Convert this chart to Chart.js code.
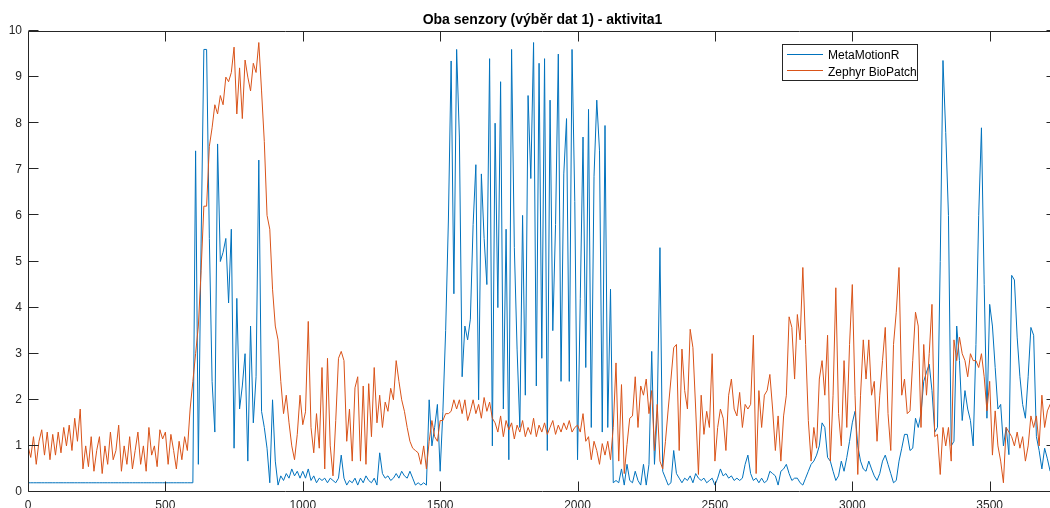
<!DOCTYPE html>
<html>
<head>
<meta charset="utf-8">
<script src="https://cdn.jsdelivr.net/npm/chart.js@4.4.1/dist/chart.umd.min.js"></script>
<style>
  html, body { margin: 0; padding: 0; background: #fff; overflow: hidden; }
  #wrap { position: absolute; left: 0; top: 0; width: 1060px; height: 508px; }
</style>
</head>
<body>
<div id="wrap"><canvas id="plot" width="1060" height="508"></canvas></div>
<script>
// one value every STEP samples
const STEP = 10;
const X_MAX = 3745;
const xTicks = [0, 500, 1000, 1500, 2000, 2500, 3000, 3500];
const yTicks = [0, 1, 2, 3, 4, 5, 6, 7, 8, 9, 10];
const seriesNames = ['MetaMotionR', 'Zephyr BioPatch'];
const chartTitle = 'Oba senzory (výběr dat 1) - aktivita1';

const metaMotion = [
  0.2, 0.2, 0.2, 0.2, 0.2, 0.2, 0.2, 0.2, 0.2, 0.2,
  0.2, 0.2, 0.2, 0.2, 0.2, 0.2, 0.2, 0.2, 0.2, 0.2,
  0.2, 0.2, 0.2, 0.2, 0.2, 0.2, 0.2, 0.2, 0.2, 0.2,
  0.2, 0.2, 0.2, 0.2, 0.2, 0.2, 0.2, 0.2, 0.2, 0.2,
  0.2, 0.2, 0.2, 0.2, 0.2, 0.2, 0.2, 0.2, 0.2, 0.2,
  0.2, 0.2, 0.2, 0.2, 0.2, 0.2, 0.2, 0.2, 0.2, 0.2,
  0.2, 7.4, 0.6, 5.4, 9.6, 9.6, 5.5, 2.4, 1.3, 7.55,
  5.0, 5.2, 5.5, 4.1, 5.7, 0.95, 4.2, 1.8, 2.3, 3.0,
  0.67, 3.6, 1.5, 2.5, 7.2, 1.75, 1.4, 0.95, 0.2, 2.0,
  0.67, 0.15, 0.35, 0.25, 0.4, 0.3, 0.5, 0.35, 0.45, 0.3,
  0.45, 0.3, 0.5, 0.25, 0.35, 0.2, 0.3, 0.25, 0.3, 0.2,
  0.3, 0.25, 0.2, 0.3, 0.8, 0.3, 0.15, 0.25, 0.2, 0.3,
  0.15, 0.3, 0.2, 0.35, 0.25, 0.2, 0.3, 0.15, 0.85, 0.4,
  0.3, 0.35, 0.25, 0.3, 0.4, 0.3, 0.45, 0.35, 0.3, 0.45,
  0.3, 0.15, 0.2, 0.15, 0.2, 0.15, 2.0, 1.0, 1.4, 1.9,
  0.45, 1.75, 3.5, 5.9, 9.35, 4.3, 9.6, 7.7, 2.5, 3.6,
  3.3, 3.75, 5.8, 7.1, 2.0, 6.9, 5.5, 4.5, 9.4, 1.0,
  8.0, 4.0, 8.9, 1.8, 5.7, 0.7, 9.6, 5.3, 3.1, 1.4,
  6.0, 2.1, 8.6, 6.8, 9.75, 2.3, 9.3, 2.9, 9.4, 0.9,
  8.5, 3.5, 5.8, 9.5, 2.4, 6.9, 8.1, 2.4, 9.6, 6.3,
  0.7, 4.2, 7.7, 2.7, 8.3, 1.4, 6.85, 8.5, 7.4, 1.3,
  7.95, 1.4, 4.4, 0.2, 0.25, 0.2, 0.5, 0.15, 0.6, 0.25,
  0.2, 0.45, 0.25, 0.15, 0.6, 0.15, 0.6, 3.05, 0.6, 1.7,
  5.3, 0.45, 0.3, 0.15, 0.2, 0.9, 0.4, 0.3, 0.2, 0.3,
  0.25, 0.35, 0.2, 0.4, 0.3, 0.25, 0.3, 0.2, 0.25, 0.3,
  0.15, 0.3, 0.5, 0.35, 0.4, 0.3, 0.35, 0.25, 0.3, 0.25,
  0.3, 0.6, 0.8, 0.4, 0.25, 0.3, 0.2, 0.3, 0.2, 0.25,
  0.45, 0.4, 0.35, 0.15, 0.45, 0.5, 0.6, 0.4, 0.25, 0.3,
  0.3, 0.2, 0.15, 0.3, 0.45, 0.6, 0.67, 0.8, 1.0, 1.5,
  1.4, 0.75, 0.67, 0.45, 0.25, 0.35, 0.67, 0.45, 0.75, 1.1,
  1.5, 1.75, 1.0, 0.67, 0.5, 0.45, 0.67, 0.5, 0.35, 0.25,
  0.4, 0.67, 0.8, 0.6, 0.4, 0.2, 0.25, 0.67, 0.95, 1.25,
  1.25, 0.9, 0.95, 1.6, 1.4, 1.7, 2.4, 2.6, 2.77, 2.2,
  1.3, 1.4, 5.0, 9.36, 7.8, 6.0, 1.0, 1.1, 3.6, 2.85,
  1.55, 2.2, 1.8, 1.55, 1.0, 3.2, 6.0, 7.9, 4.5, 1.6,
  4.07, 3.6, 2.7, 1.8, 1.9, 1.0, 1.4, 0.81, 4.7, 4.6,
  3.36, 2.5, 1.9, 1.6, 2.5, 3.57, 3.4, 1.2, 0.9, 0.5,
  0.95, 0.72, 0.45, 0.4, 0.4
];

const zephyr = [
  1.0, 0.75, 1.2, 0.6, 1.1, 1.35, 0.8, 1.3, 0.7, 1.25,
  0.8, 1.3, 0.85, 1.4, 1.0, 1.45, 0.9, 1.6, 1.1, 1.8,
  0.5, 1.0, 0.55, 1.2, 0.45, 0.9, 1.2, 0.4, 1.0, 0.6,
  1.3, 0.7, 0.9, 1.45, 0.45, 1.0, 0.6, 1.2, 0.5, 0.9,
  1.3, 0.6, 1.0, 0.45, 1.4, 0.8, 1.0, 0.55, 1.35, 1.15,
  1.3, 0.6, 1.25, 0.9, 0.5, 1.1, 0.7, 1.2, 0.9, 1.8,
  2.4, 3.0, 3.6, 4.8, 6.2, 6.2, 7.5, 7.9, 8.4, 8.2,
  8.6, 8.4, 9.0, 8.9, 9.1, 9.65, 8.2, 9.2, 8.1, 9.37,
  9.0, 8.7, 9.3, 9.1, 9.75, 8.7, 7.6, 6.0, 5.7, 4.4,
  3.6, 3.3, 2.4, 1.7, 2.1, 1.5, 1.0, 0.7, 1.25, 2.1,
  1.46, 1.74, 3.7, 1.4, 0.85, 1.7, 0.95, 2.7, 0.5, 2.9,
  1.0, 0.35, 1.55, 2.9, 3.05, 2.85, 1.1, 1.8, 0.67, 2.26,
  2.5, 0.67, 2.3, 0.6, 2.35, 1.2, 2.7, 1.5, 2.1, 1.4,
  1.95, 1.75, 2.25, 2.0, 2.85, 2.4, 2.0, 1.75, 1.4, 1.1,
  0.95, 0.9, 0.85, 0.6, 1.0, 0.5, 1.1, 1.55, 1.2, 1.1,
  1.55, 1.55, 1.7, 1.7, 1.75, 2.0, 1.8, 2.0, 1.7, 2.0,
  1.55, 1.75, 2.0, 1.7, 1.9, 1.6, 2.05, 1.75, 1.95, 1.6,
  1.5, 1.3, 1.65, 1.2, 1.55, 1.35, 1.5, 1.15, 1.45, 1.3,
  1.55, 1.2, 1.4, 1.25, 1.6, 1.2, 1.45, 1.3, 1.5, 1.25,
  1.4, 1.55, 1.25, 1.45, 1.3, 1.5, 1.35, 1.55, 1.3, 1.4,
  1.45, 1.3, 1.7, 1.1, 1.2, 0.7, 1.1, 0.9, 0.6, 1.05,
  0.8, 1.1, 0.7, 1.4, 2.8, 0.67, 2.33, 0.4, 1.03, 1.6,
  1.65, 2.5, 1.4, 2.3, 2.1, 2.45, 1.7, 2.2, 0.9, 1.9,
  0.67, 0.5, 1.1, 1.8, 2.45, 3.13, 3.2, 0.9, 3.1, 2.2,
  1.8, 3.53, 3.13, 1.8, 0.38, 2.1, 1.25, 1.75, 1.4, 3.0,
  0.67, 1.4, 1.8, 1.6, 0.9, 2.1, 2.45, 1.8, 1.65, 2.16,
  1.4, 1.9, 1.8, 1.9, 3.4, 0.4, 2.2, 1.4, 2.1, 2.2,
  2.55, 1.8, 0.9, 1.65, 0.67, 1.65, 2.1, 3.8, 3.57, 2.45,
  3.85, 3.3, 4.87, 3.2, 1.55, 0.67, 1.4, 0.95, 2.45, 2.85,
  2.1, 3.4, 0.67, 2.1, 4.43, 1.7, 1.0, 2.85, 1.4, 3.2,
  4.5, 2.1, 0.38, 2.1, 3.3, 2.45, 3.3, 2.1, 2.4, 1.1,
  2.1, 2.85, 3.57, 1.7, 0.9, 3.2, 3.9, 4.87, 2.1, 2.45,
  1.7, 1.76, 2.85, 3.9, 3.6, 1.4, 3.2, 2.1, 3.0, 4.07,
  1.2, 1.25, 0.38, 1.4, 1.0, 1.4, 0.67, 3.3, 2.85, 3.36,
  3.0, 2.85, 2.5, 3.0, 2.85, 2.85, 2.7, 3.0, 2.5, 1.76,
  2.4, 0.8, 1.76, 1.0, 0.67, 0.2, 1.4, 1.3, 1.2, 1.0,
  1.3, 0.95, 1.2, 0.67, 1.0, 1.65, 1.4, 1.65, 1.0, 2.1,
  1.4, 1.76, 1.9, 1.5, 1.7
];

const BLUE = '#0072BD';
const ORANGE = '#D95319';
const AXIS = '#262626';
const FONT = "'Liberation Sans', Arial, Helvetica, sans-serif";

const toPoints = arr => arr.map((v, i) => ({ x: i * STEP, y: v }));

// title, box, inward ticks and legend the way matlab draws them
const matlabLook = {
  id: 'matlabLook',
  afterDatasetsDraw(chart) {
    const { ctx, chartArea: a, scales: { x, y } } = chart;
    const L = a.left + 0.5, R = a.right - 0.5, T = a.top + 0.5, B = a.bottom - 0.5;
    ctx.save();
    ctx.strokeStyle = AXIS;
    ctx.lineWidth = 1;
    ctx.beginPath();
    ctx.moveTo(L, T); ctx.lineTo(R, T); ctx.lineTo(R, B); ctx.lineTo(L, B); ctx.closePath();
    const tl = 10;
    xTicks.forEach(v => {
      const px = Math.round(x.getPixelForValue(v)) + 0.5;
      ctx.moveTo(px, B); ctx.lineTo(px, B - tl);
      ctx.moveTo(px, T); ctx.lineTo(px, T + tl);
    });
    yTicks.forEach(v => {
      const py = Math.round(y.getPixelForValue(v)) - 0.5;
      ctx.moveTo(L, py); ctx.lineTo(L + tl, py);
      ctx.moveTo(R, py); ctx.lineTo(R - tl, py);
    });
    ctx.stroke();

    // title
    ctx.fillStyle = '#000';
    ctx.font = 'bold 14px ' + FONT;
    ctx.textAlign = 'center';
    ctx.textBaseline = 'alphabetic';
    ctx.fillText(chartTitle, (a.left + a.right) / 2, 24);

    // legend
    const bx = 782.5, by = 44.5, bw = 135, bh = 36;
    ctx.fillStyle = '#fff';
    ctx.fillRect(bx, by, bw, bh);
    ctx.strokeStyle = AXIS;
    ctx.strokeRect(bx, by, bw, bh);
    const rows = [[BLUE, 54.5, 59], [ORANGE, 70.5, 76]];
    ctx.font = '12px ' + FONT;
    ctx.textAlign = 'left';
    rows.forEach(([col, ly, ty], i) => {
      ctx.strokeStyle = col;
      ctx.beginPath();
      ctx.moveTo(787, ly); ctx.lineTo(823, ly);
      ctx.stroke();
      ctx.fillStyle = '#000';
      ctx.fillText(seriesNames[i], 828, ty);
    });
    ctx.restore();
  }
};

new Chart(document.getElementById('plot'), {
  type: 'line',
  data: {
    datasets: [
      { label: seriesNames[0], data: toPoints(metaMotion), borderColor: BLUE, order: 2 },
      { label: seriesNames[1], data: toPoints(zephyr), borderColor: ORANGE, order: 1 }
    ]
  },
  options: {
    responsive: false,
    animation: false,
    devicePixelRatio: 1,
    layout: { padding: { top: 31, right: 3, left: 0, bottom: 0 } },
    elements: {
      line: { borderWidth: 1, tension: 0 },
      point: { radius: 0 }
    },
    plugins: { legend: { display: false }, title: { display: false }, tooltip: { enabled: false } },
    scales: {
      x: {
        type: 'linear',
        min: 0,
        max: X_MAX,
        grid: { display: false, drawTicks: false },
        border: { display: false },
        afterBuildTicks: s => { s.ticks = xTicks.map(v => ({ value: v })); },
        afterFit: s => { s.height = 16; },
        ticks: {
          autoSkip: false, maxRotation: 0, padding: 6,
          color: AXIS, font: { family: FONT, size: 12 },
          callback: v => String(v)
        }
      },
      y: {
        min: 0,
        max: 10,
        grid: { display: false, drawTicks: false },
        border: { display: false },
        afterBuildTicks: s => { s.ticks = yTicks.map(v => ({ value: v })); },
        afterFit: s => { s.width = 28; },
        ticks: {
          padding: 6,
          color: AXIS, font: { family: FONT, size: 12 },
          callback: v => String(v)
        }
      }
    }
  },
  plugins: [matlabLook]
});
</script>
</body>
</html>
